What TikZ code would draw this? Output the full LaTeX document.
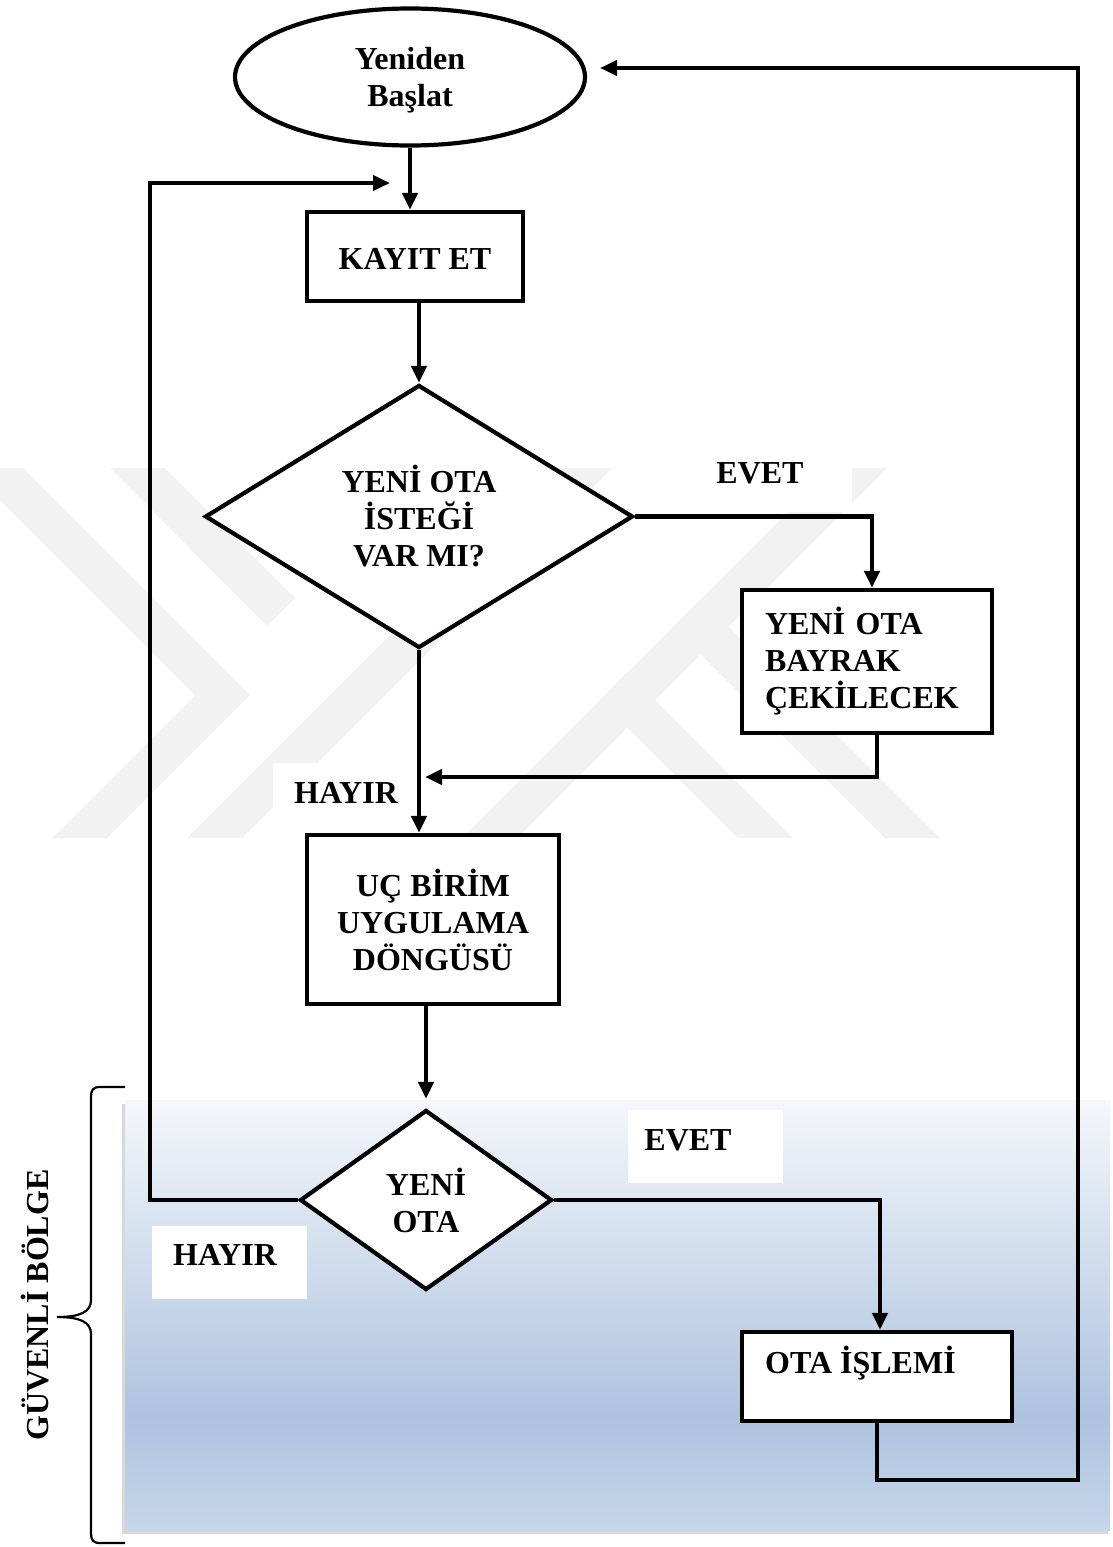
\documentclass[tikz,border=0pt]{standalone}
\usepackage{fontspec}
\setmainfont{Liberation Serif}
\usetikzlibrary{arrows.meta,shapes.geometric}

\definecolor{zoneTop}{HTML}{F4F7FB}
\definecolor{zoneMid}{HTML}{ADC3DF}
\definecolor{zoneBot}{HTML}{C6D6EA}
% the filled path is mapped onto the band from 25bp to 75bp
\pgfdeclareverticalshading{zoneshade}{100bp}{color(0bp)=(zoneBot); color(25bp)=(zoneBot); color(38bp)=(zoneMid); color(75bp)=(zoneTop); color(100bp)=(zoneTop)}

\newcommand{\flowfont}{\bfseries\fontsize{32}{37}\selectfont}

\tikzset{
  flow/.style={line width=4.2pt, draw=black},
  arr/.style={flow, -{Triangle[length=17pt,width=15pt]}},
  shapebase/.style={draw, line width=4.2pt, fill=white, inner sep=0pt, align=center, font=\flowfont},
  procbox/.style={shapebase, rectangle},
  decision/.style={shapebase, diamond},
  terminal/.style={shapebase, ellipse},
  lbl/.style={font=\flowfont, inner sep=0pt, align=center},
  wmark/.style={fill=black!5},
  labelbg/.style={fill=white},
}

\begin{document}
\begin{tikzpicture}[x=1pt,y=-1pt]
\useasboundingbox (0,0) rectangle (1112,1547);

% faint background emblem
\fill[wmark] (0,468) -- (23,468) -- (250,695) -- (107,838) -- (52,838) -- (195,695) -- (0,500) -- cycle;
\fill[wmark] (110,468) -- (165,468) -- (295,598) -- (267,626) -- cycle;
\fill[wmark] (187,838) -- (242,838) -- (612,468) -- (557,468) -- cycle;
\fill[wmark] (462,838) -- (517,838) -- (887,468) -- (832,468) -- cycle;
\fill[wmark] (600,700) -- (627,672) -- (793,838) -- (738,838) -- cycle;
\fill[wmark] (673,627) -- (701,599) -- (940,838) -- (885,838) -- cycle;

% shaded zone with its shadow
\fill[black!30, opacity=0.5] (122,1104) rectangle (1108,1534);
\shade[shading=zoneshade] (125,1100) rectangle (1110,1530);

% white panels behind the branch labels
\fill[labelbg] (696,445) rectangle (852,512);
\fill[labelbg] (273,763) rectangle (426,840);
\fill[labelbg] (628,1110) rectangle (783,1183);
\fill[labelbg] (152,1226) rectangle (307,1299);

% brace marking the zone
\draw[line width=2.2pt] (125,1087) -- (100,1087) .. controls (93,1087) and (91,1090) .. (91,1097)
  -- (91,1300) .. controls (91,1312) and (80,1317) .. (57,1317)
  .. controls (80,1317) and (91,1322) .. (91,1334)
  -- (91,1533) .. controls (91,1540) and (93,1543) .. (100,1543) -- (125,1543);
\node[lbl, rotate=90] (zone) at (35,1305) {GÜVENLİ BÖLGE};

% flowchart nodes
\node[terminal, minimum width=350pt, minimum height=137pt] (start) at (410,77) {};
\node[lbl] (starttxt) at (410,80) {Yeniden\\Başlat};
\node[procbox, minimum width=216pt, minimum height=89pt] (kayit) at (415,256.5) {};
\node[lbl] (kayittxt) at (415,259) {KAYIT ET};
\node[decision, minimum width=428pt, minimum height=263pt] (q1) at (419,516.5) {YENİ OTA\\İSTEĞİ\\VAR MI?};
\node[procbox, minimum width=250pt, minimum height=143pt, text width=204pt, align=left] (flag) at (867,661.5) {YENİ OTA\\BAYRAK\\ÇEKİLECEK};
\node[procbox, minimum width=252pt, minimum height=169pt] (loop) at (433,919.5) {UÇ BİRİM\\UYGULAMA\\DÖNGÜSÜ};
\node[decision, minimum width=252pt, minimum height=180pt] (q2) at (426,1200) {YENİ\\OTA};
\node[procbox, minimum width=270pt, minimum height=89pt] (ota) at (877,1376.5) {};
\node[lbl, anchor=west] (otatxt) at (765,1363) {OTA İŞLEMİ};

% branch labels
\node[lbl] (yes1) at (760,473) {EVET};
\node[lbl] (no1) at (346,793) {HAYIR};
\node[lbl] (yes2) at (688,1140) {EVET};
\node[lbl] (no2) at (225,1255) {HAYIR};

% connector end points
\coordinate (join) at (425,777);
\coordinate (lcorner) at (150,183);
\coordinate (loopin) at (390,183);
\coordinate (rbottom) at (1078,1480);
\coordinate (rcorner) at (1078,68);
\coordinate (retin) at (600,68);

% connectors
\draw[arr] (start.south) -- (start.south |- kayit.north);
\draw[arr] (q1.north |- kayit.south) -- (q1.north);
\draw[arr] (q1.east) -| ([xshift=5pt]flag.north);
\draw[arr] ([xshift=10pt]flag.south) |- (join);
\draw[arr] (q1.south) -- (q1.south |- loop.north);
\draw[arr, shorten >=9pt] (q2.north |- loop.south) -- (q2.north);
\draw[arr] (q2.west) -| (lcorner) -- (loopin);
\draw[arr] (q2.east) -| ([xshift=3pt]ota.north);
\draw[arr] (ota.south) |- (rbottom) -- (rcorner) -- (retin);
\end{tikzpicture}
\end{document}
